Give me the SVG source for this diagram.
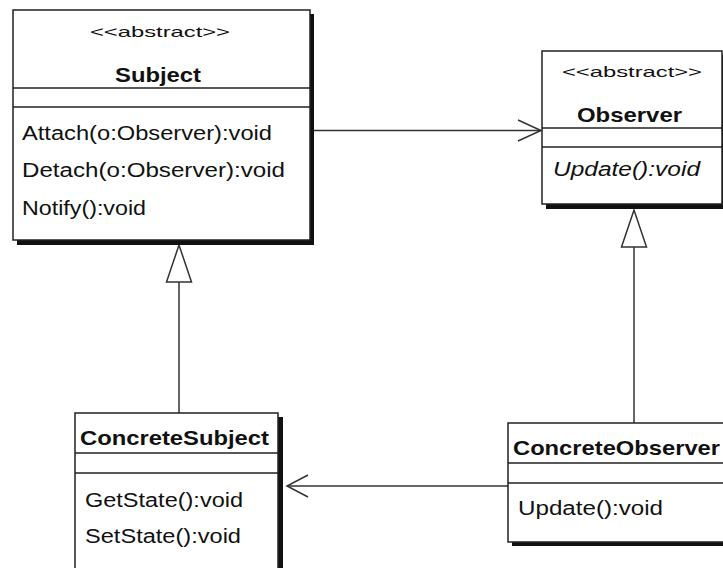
<svg xmlns="http://www.w3.org/2000/svg" width="723" height="568" viewBox="0 0 723 568">
<defs>
<style>
.box{fill:#fff;stroke:#222;stroke-width:1.5}
.shadow{fill:#111}
.sep{stroke:#222;stroke-width:1.5}
.conn{stroke:#333;stroke-width:1.5;fill:none}
.tri{stroke:#333;stroke-width:1.5;fill:#fff}
text{font-family:"Liberation Sans",Arial,sans-serif;fill:#111}
.st{font-size:15px}
.nm{font-size:21px;font-weight:bold}
.op{font-size:20px}
.it{font-style:italic}
</style>
</defs>
<rect width="723" height="568" fill="#fff"/>
<g id="connectors">
<line class="conn" x1="314" y1="130.5" x2="541" y2="130.5"/>
<polyline class="conn" points="518,120 541,130.5 518,141"/>
<line class="conn" x1="179" y1="413" x2="179" y2="282"/>
<polygon class="tri" points="179,245 166.5,282 191.5,282"/>
<line class="conn" x1="634" y1="423" x2="634" y2="247"/>
<polygon class="tri" points="634,210 621.5,247 646.5,247"/>
<line class="conn" x1="508" y1="486" x2="287" y2="486"/>
<polyline class="conn" points="308,475 287,486 308,497"/>
</g>
<g id="Subject">
<rect class="shadow" x="17" y="14" width="297" height="231"/>
<rect class="box" x="13" y="10" width="297" height="230"/>
<line class="sep" x1="13" y1="88" x2="310" y2="88"/>
<line class="sep" x1="13" y1="107" x2="310" y2="107"/>
<text class="st" x="90" y="37" textLength="140" lengthAdjust="spacingAndGlyphs">&lt;&lt;abstract&gt;&gt;</text>
<text class="nm" x="115" y="82" textLength="86" lengthAdjust="spacingAndGlyphs">Subject</text>
<text class="op" x="22" y="140" textLength="250" lengthAdjust="spacingAndGlyphs">Attach(o:Observer):void</text>
<text class="op" x="22" y="177" textLength="263" lengthAdjust="spacingAndGlyphs">Detach(o:Observer):void</text>
<text class="op" x="22" y="215" textLength="124" lengthAdjust="spacingAndGlyphs">Notify():void</text>
</g>
<g id="Observer">
<rect class="shadow" x="546" y="55" width="180" height="154"/>
<rect class="box" x="542" y="51" width="180" height="153"/>
<line class="sep" x1="542" y1="128" x2="722" y2="128"/>
<line class="sep" x1="542" y1="147" x2="722" y2="147"/>
<text class="st" x="562" y="77" textLength="140" lengthAdjust="spacingAndGlyphs">&lt;&lt;abstract&gt;&gt;</text>
<text class="nm" x="577" y="122" textLength="105" lengthAdjust="spacingAndGlyphs">Observer</text>
<text class="op it" x="553" y="176" textLength="147" lengthAdjust="spacingAndGlyphs">Update():void</text>
</g>
<g id="ConcreteSubject">
<rect class="shadow" x="79" y="417" width="204" height="200"/>
<rect class="box" x="75" y="413" width="203" height="200"/>
<line class="sep" x1="75" y1="453" x2="278" y2="453"/>
<line class="sep" x1="75" y1="473" x2="278" y2="473"/>
<text class="nm" x="80" y="445" textLength="189" lengthAdjust="spacingAndGlyphs">ConcreteSubject</text>
<text class="op" x="85" y="507" textLength="158" lengthAdjust="spacingAndGlyphs">GetState():void</text>
<text class="op" x="85" y="543" textLength="156" lengthAdjust="spacingAndGlyphs">SetState():void</text>
</g>
<g id="ConcreteObserver">
<rect class="shadow" x="512" y="427" width="240" height="119"/>
<rect class="box" x="508" y="423" width="240" height="119"/>
<line class="sep" x1="508" y1="463" x2="748" y2="463"/>
<line class="sep" x1="508" y1="483" x2="748" y2="483"/>
<text class="nm" x="513" y="455" textLength="207" lengthAdjust="spacingAndGlyphs">ConcreteObserver</text>
<text class="op" x="518" y="515" textLength="145" lengthAdjust="spacingAndGlyphs">Update():void</text>
</g>
</svg>
